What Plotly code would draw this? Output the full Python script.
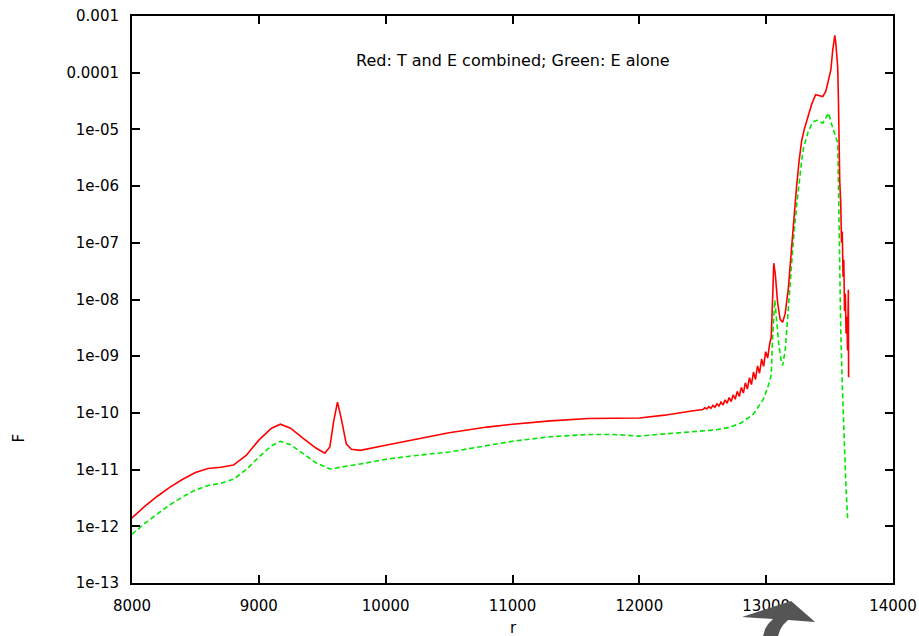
import plotly.graph_objects as go

# ---- data ----
red_r = [8000, 8100, 8200, 8300, 8400, 8500, 8600, 8700, 8800, 8900, 9000, 9100, 9170, 9250,
         9350, 9450, 9520, 9560, 9590, 9620, 9650, 9690, 9730, 9800, 10000, 10200, 10500, 10800,
         11000, 11300, 11600, 12000, 12200, 12400,
         12500, 12516, 12532, 12548, 12564, 12580, 12596, 12612, 12628, 12644, 12660, 12676,
         12692, 12708, 12724, 12740, 12756, 12772, 12788, 12804, 12820, 12836, 12852, 12868,
         12884, 12900, 12916, 12932, 12948, 12964, 12980, 12996, 13012, 13028,
         13040, 13052, 13060, 13072, 13090, 13110, 13130, 13150, 13175, 13200, 13220, 13240,
         13260, 13280, 13300, 13330, 13360, 13390, 13420, 13446, 13470, 13493, 13510, 13525,
         13535, 13541, 13548, 13556, 13564, 13570, 13574, 13580, 13588, 13594, 13600, 13606,
         13612, 13618, 13624, 13630, 13636, 13642, 13648, 13650]
red_logF = [-11.85, -11.65, -11.47, -11.31, -11.17, -11.05, -10.98, -10.96, -10.92, -10.75,
            -10.48, -10.27, -10.20, -10.27, -10.45, -10.62, -10.71, -10.60, -10.15, -9.81,
            -10.10, -10.55, -10.64, -10.66, -10.57, -10.48, -10.35, -10.25, -10.20, -10.14,
            -10.10, -10.09, -10.04, -9.97,
            -9.94, -9.91, -9.93, -9.89, -9.92, -9.87, -9.90, -9.84, -9.88, -9.81, -9.86, -9.77,
            -9.83, -9.73, -9.80, -9.68, -9.76, -9.62, -9.71, -9.55, -9.65, -9.47, -9.58, -9.38,
            -9.50, -9.28, -9.41, -9.17, -9.30, -9.05, -9.18, -8.92, -9.03, -8.78,
            -8.66, -7.90, -7.36, -7.55, -8.05, -8.35, -8.40, -8.25, -7.80, -7.10, -6.50, -6.00,
            -5.55, -5.20, -5.00, -4.78, -4.55, -4.39, -4.40, -4.42, -4.33, -4.13, -3.95, -3.60,
            -3.40, -3.34, -3.45, -3.62, -3.90, -4.50, -5.20, -5.90, -6.30, -7.00, -6.80, -7.60,
            -7.30, -8.20, -7.90, -8.60, -8.30, -8.90, -7.83, -9.37]

green_r = [8000, 8100, 8200, 8300, 8400, 8500, 8600, 8700, 8800, 8900, 9000, 9100, 9170, 9250,
           9350, 9450, 9560, 9650, 9800, 10000, 10200, 10500, 10800, 11000, 11300, 11600, 11800,
           12000, 12200, 12400, 12600, 12700, 12800, 12900, 12980, 13020, 13040, 13050, 13060,
           13068, 13080, 13100, 13120, 13130, 13150, 13175, 13193, 13215, 13240, 13256, 13280,
           13296, 13330, 13367, 13400, 13446, 13470, 13493, 13515, 13533, 13550, 13564, 13572,
           13580, 13588, 13600, 13611, 13620, 13627, 13636, 13643]
green_logF = [-12.14, -11.95, -11.78, -11.62, -11.48, -11.36, -11.28, -11.24, -11.17, -11.00,
              -10.78, -10.58, -10.50, -10.56, -10.72, -10.88, -10.99, -10.96, -10.90, -10.82,
              -10.76, -10.69, -10.57, -10.50, -10.42, -10.38, -10.38, -10.41, -10.37, -10.33,
              -10.30, -10.26, -10.18, -10.02, -9.75, -9.50, -9.33, -8.70, -8.24, -8.01, -8.30,
              -8.80, -9.10, -9.16, -8.90, -8.10, -7.66, -6.95, -6.35, -6.01, -5.55, -5.31, -5.05,
              -4.87, -4.84, -4.89, -4.80, -4.71, -4.90, -5.04, -5.15, -5.24, -6.25, -7.50, -8.54,
              -9.50, -10.30, -10.80, -11.18, -11.60, -11.89]

x_ticks = [8000, 9000, 10000, 11000, 12000, 13000, 14000]
y_ticks = [1e-13, 1e-12, 1e-11, 1e-10, 1e-09, 1e-08, 1e-07, 1e-06, 1e-05, 1e-04, 1e-03]
y_tick_labels = ["1e-13", "1e-12", "1e-11", "1e-10", "1e-09", "1e-08", "1e-07",
                 "1e-06", "1e-05", "0.0001", "0.001"]

title_text = "Red: T and E combined; Green: E alone"

red_F = [10 ** v for v in red_logF]
green_F = [10 ** v for v in green_logF]

FONT = "DejaVu Sans"

fig = go.Figure()
fig.add_trace(go.Scatter(x=green_r, y=green_F, mode="lines",
                         line=dict(color="#00e600", width=1.6, dash="5px,3px")))
fig.add_trace(go.Scatter(x=red_r, y=red_F, mode="lines",
                         line=dict(color="#ff0000", width=1.6)))

W, H = 919, 636
L, R, T, B = 131.5, 893, 16, 583


def px(xp):
    return (xp - L) / (R - L)


def py(yp):
    return (B - yp) / (B - T)


arrow_pts = [(742, 617), (791, 601), (815, 622), (788, 620), (783, 625), (780, 630),
             (778, 636), (763, 636), (765, 629), (768, 624), (773, 619)]
path = "M " + " L ".join(f"{px(a):.4f},{py(b):.4f}" for a, b in arrow_pts) + " Z"

axis_common = dict(ticks="inside", ticklen=8, tickwidth=2, tickcolor="black",
                   showline=True, linewidth=2, linecolor="black", mirror="ticks",
                   showgrid=False, zeroline=False, automargin=False)

fig.update_layout(
    width=W, height=H,
    margin=dict(l=L, r=W - R, t=T, b=H - B, autoexpand=False),
    paper_bgcolor="white", plot_bgcolor="white",
    showlegend=False,
    font=dict(family=FONT, size=15, color="black"),
    xaxis=dict(range=[8000, 14000], tickvals=x_ticks, ticktext=[str(v) for v in x_ticks],
               ticklabelstandoff=8, **axis_common),
    yaxis=dict(type="log", range=[-13, -3], tickvals=y_ticks, ticktext=y_tick_labels,
               ticklabelstandoff=8, **axis_common),
    annotations=[
        dict(text=title_text, x=0.5003, y=py(60), xref="paper", yref="paper",
             showarrow=False, font=dict(size=16, family=FONT), xanchor="center", yanchor="middle"),
        dict(text="r", x=px(513), y=py(628), xref="paper", yref="paper",
             showarrow=False, font=dict(size=15, family=FONT), xanchor="center", yanchor="middle"),
        dict(text="F", x=px(18), y=py(438), xref="paper", yref="paper", textangle=-90,
             showarrow=False, font=dict(size=15, family=FONT), xanchor="center", yanchor="middle"),
    ],
    shapes=[dict(type="path", path=path, xref="paper", yref="paper",
                 fillcolor="#555555", line=dict(width=0), layer="above")],
)

fig.write_html("out.html")
